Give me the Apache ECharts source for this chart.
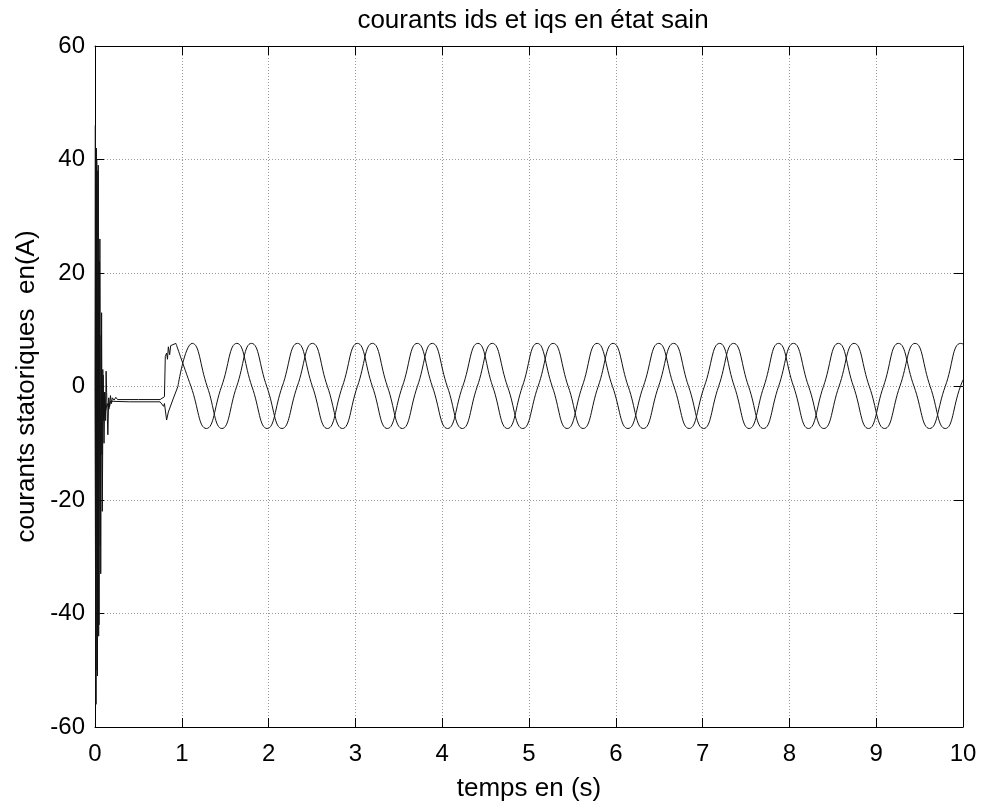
<!DOCTYPE html>
<html>
<head>
<meta charset="utf-8">
<script src="https://cdn.jsdelivr.net/npm/echarts@6/dist/echarts.min.js"></script>
<style>
html,body{margin:0;padding:0;background:#fff;}
#chart{width:981px;height:807px;}
</style>
</head>
<body>
<div id="chart"></div>
<script>
// ---- data ----
const titleText = 'courants ids et iqs en état sain';
const xAxisLabel = 'temps en (s)';
const yAxisLabel = 'courants statoriques  en(A)';
const xTicks = [0,1,2,3,4,5,6,7,8,9,10];
const yTicks = [-60,-40,-20,0,20,40,60];

// ids : start-up transient [t, A]
const idsTransient = [
  [0,0],[0.004,46],[0.012,-56],[0.02,40],[0.028,-51],[0.037,39],[0.046,-42],
  [0.056,26],[0.066,-33],[0.076,13],[0.084,-22],[0.094,2],[0.104,-10],[0.113,-1],
  [0.122,-6],[0.128,2.7],[0.134,-1],[0.148,-8.5],[0.158,-2],[0.168,-3.5],[0.178,-1.6],
  [0.19,-3],[0.2,-2],[0.22,-2.4],[0.24,-1.9],[0.26,-2.3],[0.28,-2.0],[0.3,-2.3],
  [0.5,-2.3],[0.75,-2.3],[0.77,-2.0],[0.8,-1.8],[0.81,5.3],[0.825,5.9],[0.835,4.8],
  [0.845,7.0],[0.86,5.6],[0.872,7.2],[0.932,7.6]
];
// ids : steady state, peaks / zeros / troughs [t, A]
const idsSteady = [
  [0.932,7.6],[1.106,0],[1.283,-7.4],[1.458,0],
  [1.634,7.6],[1.808,0],[1.983,-7.4],[2.157,0],
  [2.332,7.6],[2.505,0],[2.678,-7.4],[2.850,0],
  [3.023,7.6],[3.196,0],[3.368,-7.4],[3.541,0],
  [3.713,7.6],[3.887,0],[4.062,-7.4],[4.236,0],
  [4.411,7.6],[4.582,0],[4.753,-7.4],[4.924,0],
  [5.095,7.6],[5.268,0],[5.440,-7.4],[5.613,0],
  [5.785,7.6],[5.962,0],[6.140,-7.4],[6.317,0],
  [6.494,7.6],[6.670,0],[6.845,-7.4],[7.020,0],
  [7.196,7.6],[7.366,0],[7.536,-7.4],[7.706,0],
  [7.875,7.6],[8.048,0],[8.220,-7.4],[8.392,0],
  [8.565,7.6],[8.738,0],[8.911,-7.4],[9.083,0],
  [9.256,7.6],[9.436,0],[9.615,-7.4],[9.795,0],
  [9.974,7.6],[10,7.5]
];
// iqs : start-up transient [t, A]
const iqsTransient = [
  [0,0],[0.008,-45],[0.016,42],[0.024,-50],[0.033,38],[0.042,-44],[0.052,22],
  [0.062,-28],[0.071,9],[0.08,-12],[0.09,3],[0.1,-6],[0.11,-1],[0.12,-4.5],
  [0.14,-3],[0.16,-4],[0.18,-2.6],[0.2,-2.8],[0.4,-2.7],[0.75,-2.7],[0.77,-2.4],
  [0.79,-3.5],[0.8,-3],[0.825,-5.9],[0.845,-4.5],[0.86,-4.8],[0.9,-2.2],[0.955,0]
];
// iqs : steady state, zeros / peaks / troughs [t, A]
const iqsSteady = [
  [0.955,0],[1.12,7.6],[1.293,0],[1.462,-7.4],[1.632,0],
  [1.803,7.6],[1.979,0],[2.154,-7.4],[2.330,0],
  [2.505,7.6],[2.678,0],[2.851,-7.4],[3.023,0],
  [3.196,7.6],[3.369,0],[3.541,-7.4],[3.714,0],
  [3.886,7.6],[4.059,0],[4.232,-7.4],[4.404,0],
  [4.577,7.6],[4.753,0],[4.928,-7.4],[5.104,0],
  [5.279,7.6],[5.452,0],[5.624,-7.4],[5.797,0],
  [5.969,7.6],[6.143,0],[6.318,-7.4],[6.492,0],
  [6.666,7.6],[6.839,0],[7.012,-7.4],[7.184,0],
  [7.357,7.6],[7.530,0],[7.702,-7.4],[7.875,0],
  [8.047,7.6],[8.222,0],[8.397,-7.4],[8.571,0],
  [8.746,7.6],[8.921,0],[9.097,-7.4],[9.272,0],
  [9.448,7.6],[9.622,0],[9.796,-7.4],[9.970,0],[10,1.2]
];

// ---- chart ----
const FONT = 'Liberation Sans, Arial, sans-serif';
const chart = echarts.init(document.getElementById('chart'), null, {renderer:'canvas'});
const tickLen = 9;
const lineStyle = {color:'#000', width:1};
const gridLine = {show:true, lineStyle:{color:'#9a9a9a', width:1, type:[1,2]}};

function baseX(pos, showLabels, showSplit, name){
  return {
    type:'value', position:pos, min:xTicks[0], max:xTicks[xTicks.length-1], interval:1,
    name: name || '', nameLocation:'middle', nameGap:49,
    nameTextStyle:{fontFamily:FONT, fontSize:26, color:'#000'},
    axisLine:{show:true, onZero:false, lineStyle:lineStyle},
    axisTick:{show:true, inside:true, length:tickLen, lineStyle:lineStyle},
    axisLabel:{show:showLabels, fontFamily:FONT, fontSize:24, color:'#000', margin:15},
    splitLine: showSplit ? gridLine : {show:false}
  };
}
function baseY(pos, showLabels, showSplit, name){
  return {
    type:'value', position:pos, min:yTicks[0], max:yTicks[yTicks.length-1], interval:20,
    name: name || '', nameLocation:'middle', nameGap:53,
    nameTextStyle:{fontFamily:FONT, fontSize:26, color:'#000'},
    axisLine:{show:true, onZero:false, lineStyle:lineStyle},
    axisTick:{show:true, inside:true, length:tickLen, lineStyle:lineStyle},
    axisLabel:{show:showLabels, fontFamily:FONT, fontSize:24, color:'#000', margin:10},
    splitLine: showSplit ? gridLine : {show:false}
  };
}

function series(data, smooth){
  return {
    type:'line', data:data, xAxisIndex:0, yAxisIndex:0,
    showSymbol:false, symbol:'none', smooth:smooth, animation:false,
    lineStyle:{color:'#111', width:1}, silent:true
  };
}

chart.setOption({
  animation:false,
  backgroundColor:'#fff',
  title:{
    text:titleText, left:528, top:3, textAlign:'center',
    textStyle:{fontFamily:FONT, fontSize:26, fontWeight:'normal', color:'#000'}
  },
  grid:{left:95, right:18, top:46, bottom:77, containLabel:false},
  xAxis:[ baseX('bottom', true, true, xAxisLabel), baseX('top', false, false) ],
  yAxis:[ baseY('left', true, true, yAxisLabel), baseY('right', false, false) ],
  series:[
    series(idsTransient, false),
    series(idsSteady, 0.5),
    series(iqsTransient, false),
    series(iqsSteady, 0.5)
  ]
});
</script>
</body>
</html>
